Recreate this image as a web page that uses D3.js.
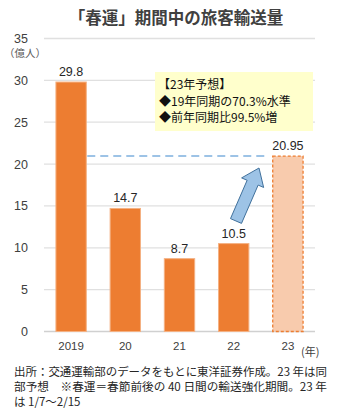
<!DOCTYPE html>
<html><head><meta charset="utf-8">
<script src="https://cdn.jsdelivr.net/npm/d3@7"></script>
<style>
body{margin:0;background:#fff;}
svg{display:block;font-family:"Liberation Sans","Noto Sans CJK JP",sans-serif;}
.jp{font-family:"Noto Sans CJK JP",sans-serif;}
</style></head><body>
<script>
const categories = ["2019","20","21","22","23"];
const values = [29.8, 14.7, 8.7, 10.5, 20.95];
const labels = ["29.8","14.7","8.7","10.5","20.95"];
const forecast = [false,false,false,false,true];
const yTicks = [0,5,10,15,20,25,30,35];
const title = "「春運」期間中の旅客輸送量";
const unitLabel = "（億人）";
const xUnit = "(年)";
const noteLines = ["【23年予想】","◆19年同期の70.3%水準","◆前年同期比99.5%増"];
const footLines = ["出所：交通運輸部のデータをもとに東洋証券作成。23 年は同","部予想　※春運＝春節前後の 40 日間の輸送強化期間。23 年","は 1/7～2/15"];

const W=340,H=415;
const svg=d3.select("body").append("svg").attr("width",W).attr("height",H);
const x=d3.scaleBand().domain(categories).range([44,315]).paddingInner(0.44).paddingOuter(0.22);
const y=d3.scaleLinear().domain([0,35]).range([331.5,38.5]);

svg.append("text").attr("class","jp").attr("x",176).attr("y",24).attr("text-anchor","middle")
  .attr("font-size",16.5).attr("font-weight","bold").attr("fill","#404040").text(title);

// grid
svg.append("g").selectAll("line").data(yTicks).join("line")
  .attr("x1",44).attr("x2",315).attr("y1",d=>y(d)).attr("y2",d=>y(d))
  .attr("stroke",d=>d===0?"#d0d0d0":"#e0e0e0").attr("stroke-width",1.3);
svg.append("g").selectAll("text").data(yTicks).join("text")
  .attr("x",28).attr("y",d=>y(d)+4.5).attr("text-anchor","end").attr("font-size",12.5).attr("fill","#404040").text(d=>d);
svg.append("text").attr("class","jp").attr("x",4).attr("y",57).attr("font-size",10.5).attr("fill","#595959").text(unitLabel);

// dashed reference line
svg.append("line").attr("x1",x("2019")+x.bandwidth()+1).attr("x2",265)
  .attr("y1",y(values[4])).attr("y2",y(values[4]))
  .attr("stroke","#9DC3E6").attr("stroke-width",2).attr("stroke-dasharray","8,5");

// bars
svg.append("g").selectAll("rect").data(categories).join("rect")
  .attr("x",d=>x(d)).attr("width",x.bandwidth())
  .attr("y",(d,i)=>y(values[i])).attr("height",(d,i)=>y(0)-y(values[i]))
  .attr("fill",(d,i)=>forecast[i]?"#F8CBAD":"#ED7D31")
  .attr("stroke",(d,i)=>forecast[i]?"#ED7D31":"#F4B183")
  .attr("stroke-width",(d,i)=>forecast[i]?1.3:1)
  .attr("stroke-dasharray",(d,i)=>forecast[i]?"3,2":null);

svg.append("g").selectAll("text").data(categories).join("text")
  .attr("x",d=>x(d)+x.bandwidth()/2).attr("y",(d,i)=>y(values[i])-6)
  .attr("text-anchor","middle").attr("font-size",12.5).attr("fill","#262626").text((d,i)=>labels[i]);

// x labels
svg.append("g").selectAll("text").data(categories).join("text")
  .attr("x",d=>x(d)+x.bandwidth()/2).attr("y",350)
  .attr("text-anchor","middle").attr("font-size",11.5).attr("fill","#404040").text(d=>d);
svg.append("text").attr("class","jp").attr("x",301).attr("y",356).attr("font-size",11).attr("fill","#404040").text(xUnit);

// arrow
(function(){
  const x0=236,y0=221,x1=259,y1=168;
  const dx=x1-x0,dy=y1-y0,L=Math.hypot(dx,dy),ux=dx/L,uy=dy/L,px=-uy,py=ux;
  const sw=6,hw=12,hl=16;
  const pts=[[x0+px*sw,y0+py*sw],[x1-ux*hl+px*sw,y1-uy*hl+py*sw],[x1-ux*hl+px*hw,y1-uy*hl+py*hw],[x1,y1],
    [x1-ux*hl-px*hw,y1-uy*hl-py*hw],[x1-ux*hl-px*sw,y1-uy*hl-py*sw],[x0-px*sw,y0-py*sw]];
  svg.append("path").attr("d",d3.line()(pts)+"Z").attr("fill","#9DC3E6").attr("stroke","#41719C").attr("stroke-width",1);
})();

// annotation box
svg.append("rect").attr("x",155).attr("y",72).attr("width",158).attr("height",59).attr("fill","#FFFFCC");
svg.append("g").selectAll("text").data(noteLines).join("text").attr("class","jp")
  .attr("x",(d,i)=>i===0?158:159).attr("y",(d,i)=>89+i*16.5).attr("font-size",12).attr("fill","#111").text(d=>d);

// footnote
svg.append("g").selectAll("text").data(footLines).join("text").attr("class","jp")
  .attr("x",14).attr("y",(d,i)=>376+i*15).attr("font-size",11.5).attr("fill","#262626")
  .attr("textLength",(d,i)=>i<2?313:null).attr("lengthAdjust","spacingAndGlyphs").text(d=>d);
</script></body></html>
